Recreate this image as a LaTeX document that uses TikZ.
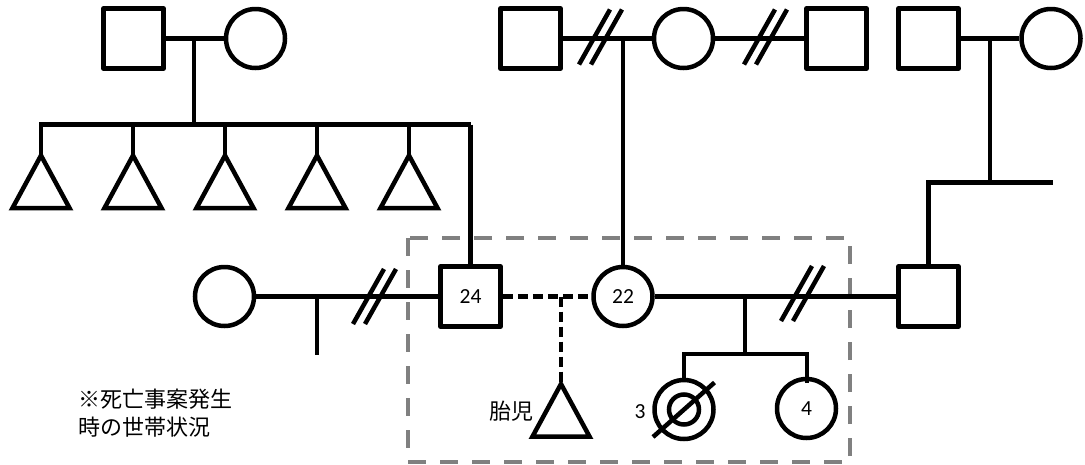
\documentclass[tikz,border=0pt]{standalone}
\usepackage{fontspec}
\newfontfamily\cjk{Noto Sans CJK JP}
\newfontfamily\numfont{Carlito}
\begin{document}
\begin{tikzpicture}[x=1pt,y=-1pt,line width=4.5pt,
  male/.style={draw, rectangle, minimum size=60pt, inner sep=0pt, line join=round,
    font=\numfont\fontsize{21.5}{24}\selectfont},
  female/.style={draw, circle, minimum size=59pt, inner sep=0pt,
    font=\numfont\fontsize{21.5}{24}\selectfont},
  household/.style={draw=gray, line width=4pt, dash pattern=on 18pt off 14pt},
  pregnancy/.style={dash pattern=on 10pt off 5pt},
  label text/.style={inner sep=0pt, font=\cjk\fontsize{22}{28}\selectfont},
  age text/.style={inner sep=0pt, font=\numfont\fontsize{21.5}{24}\selectfont},
  pics/unknown child/.style={code={
    \draw[line join=miter] (0,0) -- (-28.5,52.5) -- (28.5,52.5) -- cycle;}},
  pics/separated/.style={code={
    \draw (-15.5,27.5) -- (15.5,-27.5);
    \draw (-3.5,27.5) -- (27.5,-27.5);}}
]
\useasboundingbox (0,0) rectangle (1085,464);

% household at the time of the incident
\draw[household] (408,238) rectangle (850,462);

% ---------- grandparents (paternal side) ----------
\node[male]   (pgf) at (133.5,38.5) {};
\node[female] (pgm) at (255.5,38.5) {};
\coordinate (pgu) at (194,38.5);
\coordinate (pgs) at (194,124.5);
\draw (pgf) -- (pgm);
\draw (pgu) -- (pgs);

% siblings of the father
\foreach \i/\x in {1/41,2/133,3/225,4/317,5/409}{
  \coordinate (sib\i) at (\x,155.5);
  \pic at (sib\i) {unknown child};
}
\coordinate (sibL) at (41,124.5);
\coordinate (sibR) at (470.5,124.5);
\draw (sib1) -- (sibL) -- (sibR);
\foreach \i/\x in {2/133,3/225,4/317,5/409}{
  \draw (\x,124.5) -- (sib\i);
}

% ---------- grandparents (maternal side) ----------
\node[male]   (mgf)  at (530.5,38.5) {};
\node[female] (mgm)  at (683.5,38.5) {};
\node[male]   (mgf2) at (836.5,38.5) {};
\coordinate (mgu) at (623,38.5);
\draw (mgf) -- (mgm);
\draw (mgm) -- (mgf2);
\pic at (594.5,37) {separated};
\pic at (759.5,37) {separated};

% ---------- grandparents of the step-father ----------
\node[male]   (sgf) at (928.5,38.5) {};
\node[female] (sgm) at (1051,38.5) {};
\coordinate (sgu) at (990,38.5);
\coordinate (sgs) at (990,182.5);
\draw (sgf) -- (sgm);
\draw (sgu) -- (990,184.5);

% ---------- parents' generation ----------
\node[female] (exw) at (224.5,296.5) {};
\node[male]   (fa)  at (470.5,296.5) {24};
\node[female] (mo)  at (623,296.5)   {22};
\node[male]   (sfa) at (928.5,296.5) {};

\draw (sibR) -- (fa);
\draw (mgu) -- (mo);
\draw (sfa) -- (928.5,182.5) -- (1053,182.5);

% father and his former partner
\coordinate (exu) at (317,296.5);
\draw (exw) -- (fa);
\draw (exu) -- (317,355);
\pic at (368.5,296.5) {separated};

% father and mother (unmarried), unborn child
\coordinate (fmu) at (561,296.5);
\coordinate (fetus) at (561,384);
\draw[pregnancy] (fa) -- (mo);
\draw[pregnancy] (fmu) -- (fetus);
\pic at (fetus) {unknown child};
\node[label text, anchor=east] (fetuslbl) at (536,411) {胎児};

% mother and step-father, their children
\coordinate (msu) at (745,296.5);
\coordinate (msc) at (745,354);
\draw (mo) -- (sfa);
\pic at (796.5,293.5) {separated};

\node[female] (c3) at (684,409.5) {};
\node[female] (c4) at (806.5,408.5) {4};
\draw (msu) -- (msc);
\draw (c3.north) -- (684,354) -- (807,354) -- (807,383);
\draw (c3) circle (15pt);
\draw (c3) ++(-31,27.5) -- ++(61.5,-54.5);
\node[age text] (c3age) at (640,412) {3};

% note
\node[label text, anchor=west, align=left] (note) at (76,413)
  {※死亡事案発生\\時の世帯状況};
\end{tikzpicture}
\end{document}
